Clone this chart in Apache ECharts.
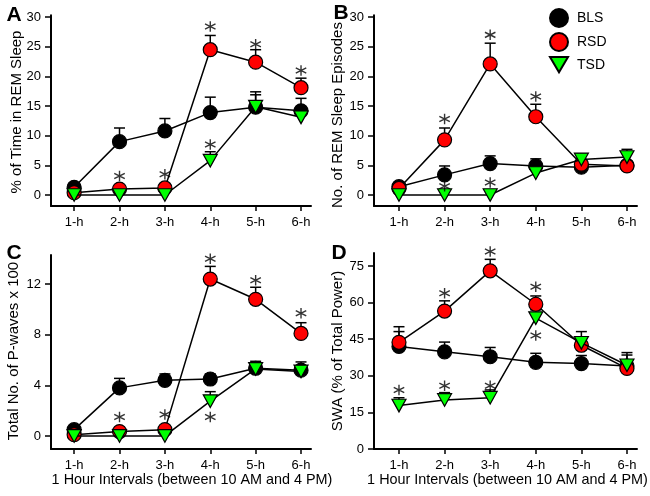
<!DOCTYPE html>
<html>
<head>
<meta charset="utf-8">
<script src="https://cdn.jsdelivr.net/npm/echarts@6/dist/echarts.min.js"></script>
<style>
html,body{margin:0;padding:0;background:#fff;}
#chart{width:650px;height:496px;}
</style>
</head>
<body>
<div id="chart"></div>
<script>
// ---- data ----
var categories = ['1-h', '2-h', '3-h', '4-h', '5-h', '6-h'];
var groups = ['BLS', 'RSD', 'TSD'];

// Panel A: % of Time in REM Sleep
var A_BLS = [1.3, 9.0, 10.8, 13.9, 14.8, 14.2];
var A_BLS_err = [null, 11.3, 12.9, 16.5, 16.9, 16.3];
var A_RSD = [0.4, 1.0, 1.2, 24.5, 22.4, 18.1];
var A_RSD_err = [null, null, null, 26.9, 24.5, 19.7];
var A_TSD = [0, 0, 0, 5.8, 14.9, 13.1];
var A_TSD_err = [null, null, null, 7.3, 17.4, 14.5];
var A_stars = [[2, 3.2], [3, 3.5], [4, 28.4], [5, 25.4], [6, 21.0], [4, 8.5]];
var A_ticks = [0, 5, 10, 15, 20, 25, 30];

// Panel B: No. of REM Sleep Episodes
var B_BLS = [1.4, 3.4, 5.3, 4.9, 4.7, 5.0];
var B_BLS_err = [2.1, 4.9, 6.6, 6.1, null, null];
var B_RSD = [1.1, 9.3, 22.1, 13.2, 5.2, 4.9];
var B_RSD_err = [null, 11.3, 25.6, 15.3, null, null];
var B_TSD = [0, 0, 0, 3.7, 6.0, 6.4];
var B_TSD_err = [null, null, null, null, 6.9, 7.7];
var B_stars = [[2, 12.8], [3, 27.0], [4, 16.6], [2, 1.5], [3, 2.1]];
var B_ticks = [0, 5, 10, 15, 20, 25, 30];

// Panel C: Total No. of P-waves x 100
var C_BLS = [0.5, 3.8, 4.4, 4.5, 5.35, 5.2];
var C_BLS_err = [null, 4.55, 4.9, 4.9, 5.9, 5.85];
var C_RSD = [0.1, 0.35, 0.5, 12.4, 10.8, 8.1];
var C_RSD_err = [null, null, null, 13.4, 11.75, 8.95];
var C_TSD = [0, 0, 0, 2.75, 5.3, 5.1];
var C_TSD_err = [null, null, null, 3.5, 5.7, 5.5];
var C_stars = [[2, 1.5], [3, 1.7], [4, 14.0], [5, 12.3], [6, 9.7], [4, 1.5]];
var C_ticks = [0, 4, 8, 12];

// Panel D: SWA (% of Total Power)
var D_BLS = [42.0, 39.8, 37.8, 35.5, 35.0, 34.0];
var D_BLS_err = [48.1, 43.8, 41.6, 39.2, 38.3, 38.5];
var D_RSD = [43.7, 56.5, 73.0, 59.3, 42.5, 33.0];
var D_RSD_err = [50.1, 60.7, 77.7, 62.7, null, null];
var D_TSD = [17.8, 20.1, 21.0, 53.6, 43.5, 34.3];
var D_TSD_err = [21.0, 23.1, 24.2, 57.0, 48.1, 39.5];
var D_stars = [[1, 24.2], [2, 25.9], [3, 25.9], [3, 80.9], [2, 63.8], [4, 66.5], [4, 46.5]];
var D_ticks = [0, 15, 30, 45, 60, 75];

var yTitles = ['% of Time in REM Sleep', 'No. of REM Sleep Episodes', 'Total No. of P-waves x 100', 'SWA (% of Total Power)'];
var xTitle = '1 Hour Intervals (between 10 AM and 4 PM)';
var letters = ['A', 'B', 'C', 'D'];

// ---- build ----
var FONT = '"Liberation Sans", Arial, sans-serif';
var fills = {BLS: '#000000', RSD: '#ff0000', TSD: '#00ff00'};
var TRI = 'path://M0,0 L10,0 L5,9 Z';
var STAR = 'path://M0,-5 L0,5 M-4.33,-2.5 L4.33,2.5 M-4.33,2.5 L4.33,-2.5';
var xPos = categories.map(function (c, i) { return i + 1; });

var panels = [
  {means: [A_BLS, A_RSD, A_TSD], errs: [A_BLS_err, A_RSD_err, A_TSD_err], stars: A_stars, ticks: A_ticks,
   grid: {left: 51, top: 15.3, width: 260, height: 190.7}, xr: [0.49, 6.22], yr: [-1.85, 30.3], xname: false},
  {means: [B_BLS, B_RSD, B_TSD], errs: [B_BLS_err, B_RSD_err, B_TSD_err], stars: B_stars, ticks: B_ticks,
   grid: {left: 374, top: 15.3, width: 263, height: 190.7}, xr: [0.452, 6.22], yr: [-1.85, 30.3], xname: false},
  {means: [C_BLS, C_RSD, C_TSD], errs: [C_BLS_err, C_RSD_err, C_TSD_err], stars: C_stars, ticks: C_ticks,
   grid: {left: 51, top: 255, width: 260, height: 194}, xr: [0.49, 6.22], yr: [-1.03, 14.3], xname: true, xpad: 22},
  {means: [D_BLS, D_RSD, D_TSD], errs: [D_BLS_err, D_RSD_err, D_TSD_err], stars: D_stars, ticks: D_ticks,
   grid: {left: 374, top: 253, width: 263, height: 196}, xr: [0.452, 6.22], yr: [0, 80.3], xname: true, xpad: 4}
];

var grids = [], xAxes = [], yAxes = [], series = [], graphics = [];
var axisLineStyle = {color: '#000', width: 2};

panels.forEach(function (p, k) {
  grids.push(p.grid);
  xAxes.push({
    type: 'value', gridIndex: k, min: p.xr[0], max: p.xr[1],
    splitLine: {show: false},
    axisLine: {show: true, onZero: false, lineStyle: axisLineStyle},
    axisTick: {show: true, customValues: xPos, length: 5, lineStyle: {color: '#000', width: 1.5}},
    axisLabel: {customValues: xPos, margin: 10, color: '#000', fontSize: 13, fontFamily: FONT,
      formatter: function (v) { return categories[Math.round(v) - 1]; }},
    name: p.xname ? xTitle : '', nameLocation: 'middle', nameGap: 22,
    nameTextStyle: {color: '#000', fontSize: 14.4, fontFamily: FONT, padding: [0, 0, 0, p.xpad || 0]}
  });
  yAxes.push({
    type: 'value', gridIndex: k, min: p.yr[0], max: p.yr[1],
    splitLine: {show: false},
    axisLine: {show: true, onZero: false, lineStyle: axisLineStyle},
    axisTick: {show: true, customValues: p.ticks, length: 6, lineStyle: {color: '#000', width: 1.5}},
    axisLabel: {customValues: p.ticks, margin: 10, color: '#000', fontSize: 13, fontFamily: FONT}
  });
  // error bars
  var ebData = [];
  groups.forEach(function (g, gi) {
    p.errs[gi].forEach(function (top, i) {
      if (top != null) ebData.push([xPos[i], p.means[gi][i], top]);
    });
  });
  series.push({
    type: 'custom', xAxisIndex: k, yAxisIndex: k, data: ebData, z: 1, silent: true, clip: false,
    renderItem: function (params, api) {
      var x = api.value(0);
      var a = api.coord([x, api.value(1)]);
      var b = api.coord([x, api.value(2)]);
      var st = {stroke: '#000', lineWidth: 1.5};
      return {type: 'group', children: [
        {type: 'line', shape: {x1: a[0], y1: a[1], x2: b[0], y2: b[1]}, style: st},
        {type: 'line', shape: {x1: b[0] - 5.5, y1: b[1], x2: b[0] + 5.5, y2: b[1]}, style: st}
      ]};
    }
  });
  groups.forEach(function (g, gi) {
    series.push({
      type: 'line', name: g, xAxisIndex: k, yAxisIndex: k, z: 2 + gi, clip: false,
      data: p.means[gi].map(function (v, i) { return [xPos[i], v]; }),
      symbol: g === 'TSD' ? TRI : 'circle',
      symbolSize: g === 'TSD' ? [14, 12.6] : 14,
      symbolKeepAspect: false,
      showAllSymbol: true,
      lineStyle: {color: '#000', width: 1.5},
      itemStyle: {color: fills[g], borderColor: '#000', borderWidth: 1.2},
      emphasis: {disabled: true},
      silent: true
    });
  });
  series.push({
    type: 'scatter', xAxisIndex: k, yAxisIndex: k, z: 6, clip: false, silent: true,
    data: p.stars, symbol: STAR, symbolSize: 10.5,
    itemStyle: {color: 'none', borderColor: '#000', borderWidth: 1.4}
  });
});

// y-axis titles (rotated text)
var yTitlePos = [[17, 112], [338, 115], [14, 351], [338, 351]];
yTitles.forEach(function (t, i) {
  graphics.push({type: 'text', x: yTitlePos[i][0], y: yTitlePos[i][1], rotation: Math.PI / 2,
    style: {text: t, font: '15px ' + FONT, fill: '#000', textAlign: 'center', textVerticalAlign: 'middle'}});
});

var letterPos = [[14, 15], [341, 13], [14, 253], [339, 253]];
letters.forEach(function (L, i) {
  graphics.push({type: 'text', x: letterPos[i][0], y: letterPos[i][1],
    style: {text: L, font: 'bold 21px ' + FONT, fill: '#000', textAlign: 'center', textVerticalAlign: 'middle'}});
});

var chart = echarts.init(document.getElementById('chart'), null, {renderer: 'canvas'});
chart.setOption({
  animation: false,
  backgroundColor: '#fff',
  grid: grids,
  xAxis: xAxes,
  yAxis: yAxes,
  series: series,
  graphic: graphics,
  legend: {
    orient: 'vertical', left: 549, top: 8, padding: 0, itemWidth: 18, itemHeight: 18, itemGap: 4,
    selectedMode: false,
    textStyle: {color: '#000', fontSize: 14, fontFamily: FONT, padding: [0, 0, 0, 4]},
    data: [
      {name: 'BLS', icon: 'circle'},
      {name: 'RSD', icon: 'circle'},
      {name: 'TSD', icon: 'path://M0,0 L10,0 L5,8.5 Z'}
    ]
  }
});
</script>
</body>
</html>
